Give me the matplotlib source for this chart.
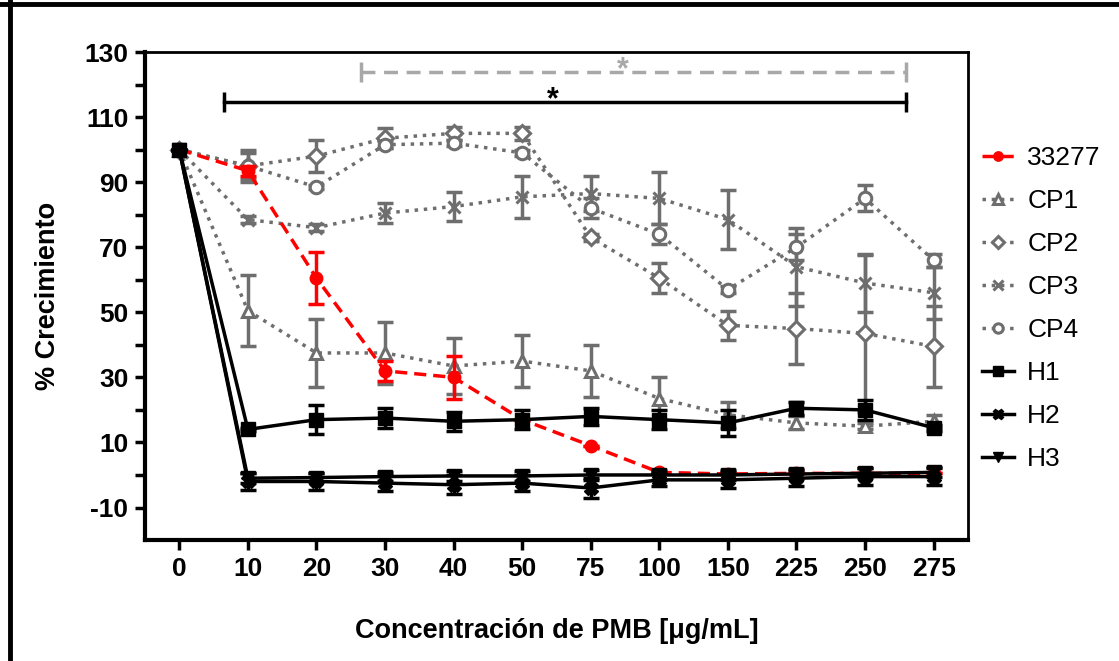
import numpy as np
import matplotlib
matplotlib.use("Agg")
import matplotlib.pyplot as plt
from matplotlib.lines import Line2D

plt.rcParams['font.family'] = ['Liberation Sans', 'DejaVu Sans']
plt.rcParams['axes.unicode_minus'] = False

# concentrations (categorical axis)
conc = ['0', '10', '20', '30', '40', '50', '75', '100', '150', '225', '250', '275']

s33277 = [100, 93.5, 60.5, 32, 30, 17, 9, 0.8, 0.3, 0.5, 0.5, 0.5]
e33277 = [0, 1.5, 8, 3, 6.5, 0, 0, 0, 0, 0, 0, 0]

cp1 = [100, 50.5, 37.5, 37.5, 33.5, 35, 32, 23.5, 18.5, 16, 15, 16.5]
e_cp1 = [0, 11, 10.5, 9.5, 8.5, 8, 8, 6.5, 4, 2, 1, 2]
cp2 = [100, 95, 98, 103.5, 105, 105, 73, 60.5, 46, 45, 43.5, 39.5]
e_cp2 = [0, 5, 5, 3, 2, 2, 1, 4.5, 4.5, 11, 24, 12.5]
cp3 = [100, 78.5, 76, 80.5, 82.5, 85.5, 86.5, 85, 78.5, 64, 59, 56]
e_cp3 = [0, 1, 1, 3, 4.5, 6.5, 5.5, 8, 9, 12, 9, 8]
cp4 = [100, 95, 88.5, 101.5, 102, 99, 82, 74, 57, 70, 85, 66]
e_cp4 = [0, 4, 0.5, 1, 1, 1, 3, 3, 1, 4, 4, 2]

h1 = [100, 14, 17, 17.5, 16.5, 17, 18, 17, 16, 20.5, 20, 14.5]
e_h1 = [0, 0.5, 4.5, 3, 3, 3, 2.5, 3, 4, 2, 3, 1]
h2 = [100, -2, -2, -2.5, -3, -2.5, -4, -1.5, -1.5, -1, -0.5, -0.5]
e_h2 = [0, 2.5, 2.5, 2.5, 3, 2.5, 3, 2, 2.5, 2.5, 2.5, 2.5]
h3 = [100, -1, -0.8, -0.5, -0.3, -0.3, 0, 0, 0, 0.3, 0.5, 0.8]
e_h3 = [0, 1.5, 1.5, 1.5, 1.5, 1.5, 1.5, 1.5, 1.5, 1.5, 1.5, 1.5]

# significance bars: (x start, x end, y, asterisk x, asterisk y)
sig_grey = (2.65, 10.6, 123.8, 6.47, 124.3)
sig_black = (0.65, 10.6, 114.6, 5.45, 115.2)

x = np.arange(len(conc))
grey = '#6e6e6e'

fig = plt.figure(figsize=(11.19, 6.61), dpi=100)
ax = fig.add_axes([0.1296, 0.183, 0.865 - 0.1296, 0.9213 - 0.183])

cp_series = [(cp1, e_cp1, '^', 'CP1'), (cp2, e_cp2, 'D', 'CP2'),
             (cp3, e_cp3, 'x', 'CP3'), (cp4, e_cp4, 'o', 'CP4')]
for vals, errs, mk, lab in cp_series:
    ax.errorbar(x, vals, yerr=errs, fmt='none', ecolor=grey, elinewidth=2.5,
                capsize=5.5, capthick=2.5, zorder=2)
    ms = 9 if mk != 'D' else 8
    ax.plot(x, vals, linestyle=':', color=grey, lw=2.5, marker=mk, ms=ms,
            mfc='white' if mk != 'x' else grey, mec=grey, mew=2.2, label=lab, zorder=3)

ax.errorbar(x, s33277, yerr=e33277, fmt='none', ecolor='red', elinewidth=2.5,
            capsize=5.5, capthick=2.5, zorder=4)
ax.plot(x, s33277, linestyle=(0, (3.5, 2)), color='red', lw=2.5, marker='o', ms=9,
        label='33277', zorder=4)

h_series = [(h1, e_h1, 's', 10, 'H1'), (h2, e_h2, 'X', 10, 'H2'), (h3, e_h3, 'v', 10, 'H3')]
for vals, errs, mk, ms, lab in h_series:
    ax.errorbar(x, vals, yerr=errs, fmt='none', ecolor='black', elinewidth=2.5,
                capsize=5.5, capthick=2.5, zorder=5)
    ax.plot(x, vals, linestyle='-', color='black', lw=2.5, marker=mk, ms=ms,
            label=lab, zorder=5)

# significance annotations
for (x0, x1, y, ax_, ay_), col, ls in [(sig_grey, '#a8a8a8', (0, (4, 2.5))),
                                       (sig_black, 'black', '-')]:
    ax.plot([x0, x1], [y, y], color=col, lw=2.5, linestyle=ls, zorder=2)
    ax.plot([x0, x1], [y, y], color=col, linestyle='none', marker='|', ms=14, mew=2.5, zorder=2)
    ax.text(ax_, ay_, '*', color=col, fontsize=22, fontweight='bold', ha='center', va='center')

ax.set_xlim(-0.5, 11.5)
ax.set_ylim(-20, 130)
ax.set_xticks(x)
ax.set_xticklabels(conc)
ax.set_yticks(np.arange(-10, 131, 20))
ax.set_yticks(np.arange(0, 121, 20), minor=True)
ax.tick_params(axis='both', which='both', direction='out', length=7, width=2.5,
               labelsize=19, pad=5)
for lbl in ax.get_xticklabels() + ax.get_yticklabels():
    lbl.set_fontweight('bold')

for side in ['left', 'bottom']:
    ax.spines[side].set_linewidth(3)
for side in ['top', 'right']:
    ax.spines[side].set_linewidth(2)

ax.set_xlabel('Concentración de PMB [μg/mL]', fontsize=19.5, fontweight='bold', labelpad=27)
ax.set_ylabel('% Crecimiento', fontsize=19.5, fontweight='bold', labelpad=17)

handles, labels = ax.get_legend_handles_labels()
order = ['33277', 'CP1', 'CP2', 'CP3', 'CP4', 'H1', 'H2', 'H3']
hmap = dict(zip(labels, handles))
leg = ax.legend([hmap[k] for k in order], order, loc='upper left',
                bbox_to_anchor=(0.995, 0.845), frameon=False, fontsize=19,
                handlelength=1.2, handletextpad=0.5, labelspacing=0.72,
                markerscale=0.75, borderaxespad=0.3)

# outer frame (top and left edges)
fig.add_artist(Line2D([0.0, 1.0], [0.994, 0.994], transform=fig.transFigure, color='black', lw=3.5))
fig.add_artist(Line2D([0.0085, 0.0085], [0.0, 1.0], transform=fig.transFigure, color='black', lw=3.5))

fig.savefig('out.png', dpi=100)
